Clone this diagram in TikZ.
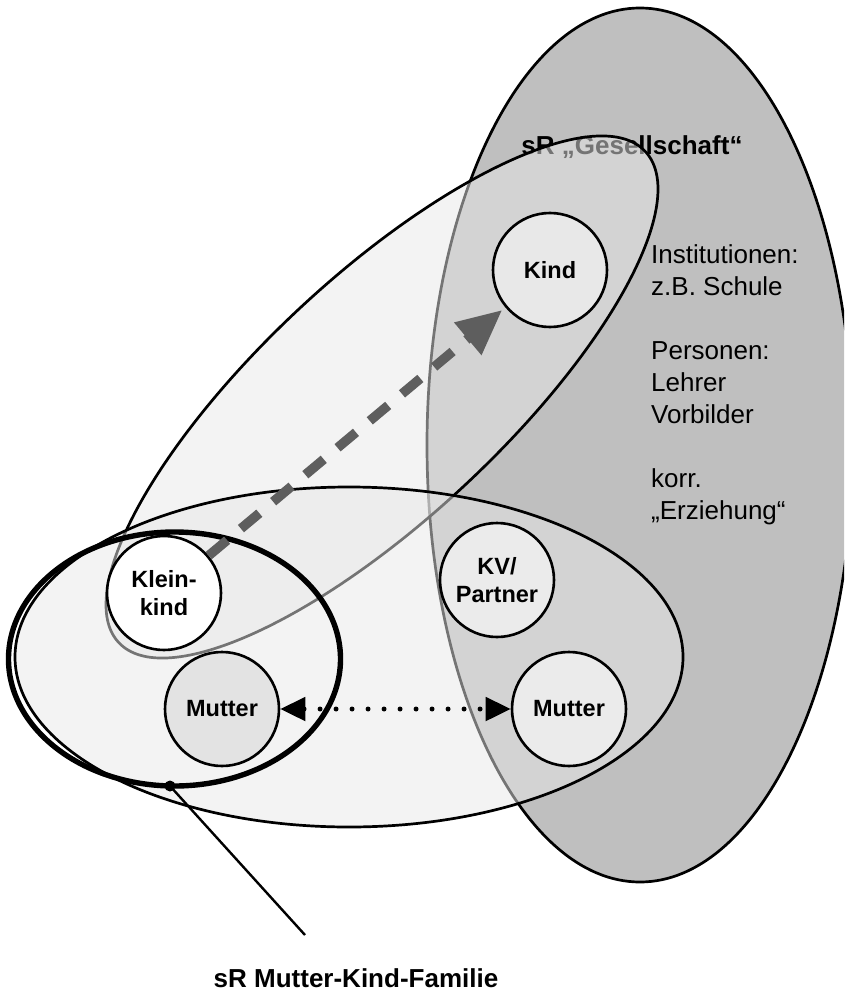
\documentclass[tikz,border=0pt]{standalone}
\usepackage{fontspec}
\setmainfont{Liberation Sans}
\usetikzlibrary{arrows.meta}
\definecolor{gesell}{gray}{0.75}
\definecolor{arrowgray}{gray}{0.37}
\begin{document}
\begin{tikzpicture}[x=1pt,y=-1pt,
  lbl/.style={font=\fontsize{23.5pt}{28pt}\selectfont\bfseries},
  person/.style={circle, draw=black, line width=2.6pt, minimum size=114pt, inner sep=0pt, align=center, lbl},
  region/.style={draw=black, line width=2.7pt, fill=black!9, fill opacity=0.5},
  title/.style={font=\fontsize{26pt}{30pt}\selectfont\bfseries, anchor=base, inner sep=0pt},
  ]
\useasboundingbox (0,0) rectangle (844,992);
\clip (0,0) rectangle (844,992);
\fill[white] (0,0) rectangle (844,992);

% society region
\draw[fill=gesell, line width=2.7pt] (640,445) ellipse [x radius=213pt, y radius=437pt];
\node[title] (gtitle) at (632,155) {sR „Gesellschaft“};

% tilted region Kleinkind -> Kind
\draw[region, rotate around={43:(382,397)}] (382,397) ellipse [x radius=360pt, y radius=121pt];

% family region
\draw[region] (349,657) ellipse [x radius=334pt, y radius=170pt];

% mother-child region
\draw[line width=5.4pt] (174.5,659) ellipse [x radius=166pt, y radius=127pt];

% text in society region
\node[anchor=north west, inner sep=0pt, align=left, font=\fontsize{26pt}{32pt}\selectfont] (gtext) at (651,243)
  {\rule{0pt}{20pt}Institutionen:\\ z.B. Schule\\[32pt] Personen:\\ Lehrer\\ Vorbilder\\[32pt] korr.\\ „Erziehung“};

% persons
\node[person, fill=black!9] (kind) at (550,270) {Kind};
\node[person, fill=white] (klein) at (164,593) {Klein-\\kind};
\node[person, fill=black!11] (mutterL) at (222,709) {Mutter};
\node[person, fill=black!8] (kv) at (497,580) {KV/\\Partner};
\node[person, fill=black!8] (mutterR) at (569,709) {Mutter};

% arrows
\draw[arrowgray, line width=9.5pt, dash pattern=on 24pt off 18pt,
      -{Triangle[length=45pt,width=40pt]}, shorten >=4pt] (klein) -- (kind);
\draw[line width=5pt, line cap=round, dash pattern=on 0pt off 16pt,
      {Triangle[length=25pt,width=23pt]}-{Triangle[length=25pt,width=23pt]}] (mutterL) -- (mutterR);

% label of mother-child region
\node[circle, fill=black, inner sep=0pt, minimum size=11pt] (dot) at (170,786) {};
\coordinate (lend) at (305,935);
\draw[line width=2.4pt] (dot.center) -- (lend);
\node[title] (mklabel) at (356,987) {sR Mutter-Kind-Familie};
\end{tikzpicture}
\end{document}
